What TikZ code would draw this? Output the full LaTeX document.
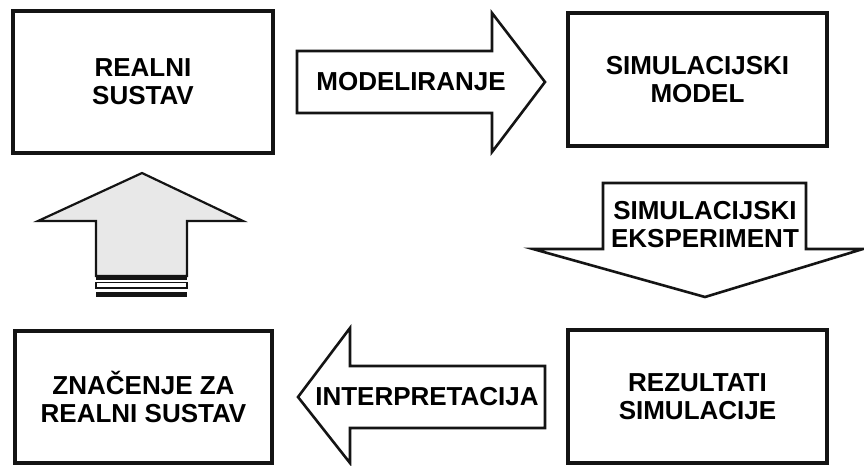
\documentclass[tikz,border=0pt]{standalone}
\usepackage{fontspec}
\setmainfont{Liberation Sans}
\usepackage{xcolor}
\usepackage{tikz}
\usetikzlibrary{positioning, calc}
\definecolor{mydark}{RGB}{20,20,20}
\definecolor{mygray}{RGB}{232,232,232}
\tikzset{
  stagebox/.style={rectangle, draw=mydark, fill=white, line width=2.2pt,
    align=center, font=\bfseries\fontsize{13}{14}\selectfont},
  blockarrow/.style={draw=mydark, fill=white, line width=1.3pt, line join=miter},
  grayarrow/.style={draw=mydark, fill=mygray, line width=1.1pt, line join=miter},
  arrowtext/.style={align=center, inner sep=0pt, font=\bfseries\fontsize{13}{14}\selectfont}
}
\begin{document}
\begin{tikzpicture}[x=0.5pt, y=-0.5pt]
  \useasboundingbox (0,0) rectangle (864,466);
  % the four stages
  \node[stagebox, minimum width=130pt, minimum height=71pt] (realni) at (143,82) {REALNI\\SUSTAV};
  \node[stagebox, minimum width=129.5pt, minimum height=66.5pt] (model) at (697.5,79.5) {SIMULACIJSKI\\MODEL};
  \node[stagebox, minimum width=129.5pt, minimum height=66.5pt] (rezultati) at (697.5,396.5) {REZULTATI\\SIMULACIJE};
  \node[stagebox, minimum width=128.5pt, minimum height=66pt] (znacenje) at (143.5,397) {ZNAČENJE ZA\\REALNI SUSTAV};
  % modeliranje
  \draw[blockarrow] (297,51) -- (492,51) -- (492,13) -- (545,82) -- (492,152) -- (492,113) -- (297,113) -- cycle;
  \node[arrowtext] (modeliranje) at (411,82) {MODELIRANJE};
  % simulacijski eksperiment
  \draw[blockarrow] (603,183) -- (806,183) -- (806,249) -- (863,249) -- (705,297) -- (533,249) -- (603,249) -- cycle;
  \node[arrowtext] (eksperiment) at (705,225) {SIMULACIJSKI\\EKSPERIMENT};
  % interpretacija
  \draw[blockarrow] (298,397) -- (350,328) -- (350,366) -- (545,366) -- (545,428) -- (350,428) -- (350,463) -- cycle;
  \node[arrowtext] (interpretacija) at (427,397) {INTERPRETACIJA};
  % povratak u realni sustav
  \draw[grayarrow] (142,173) -- (243,221) -- (187,221) -- (187,276) -- (96,276) -- (96,221) -- (38,221) -- cycle;
  \fill[mydark] (96,275) rectangle (187,280);
  \draw[line width=0.8pt, draw=mydark, fill=white] (96,282.5) rectangle (187,288);
  \fill[mydark] (96,292) rectangle (187,297);
\end{tikzpicture}
\end{document}
